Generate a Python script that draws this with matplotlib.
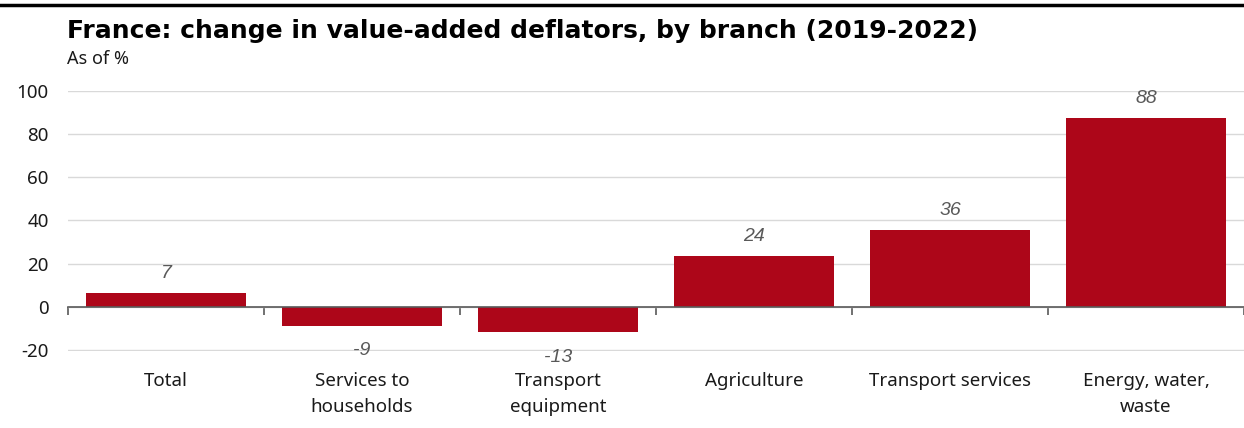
import matplotlib
matplotlib.use("Agg")
import matplotlib.pyplot as plt
from matplotlib.lines import Line2D

categories = ["Total", "Services to\nhouseholds", "Transport\nequipment",
              "Agriculture", "Transport services", "Energy, water,\nwaste"]
values = [6.5, -8.8, -11.7, 23.3, 35.7, 87.6]
labels = ["7", "-9", "-13", "24", "36", "88"]
yticks = [-20, 0, 20, 40, 60, 80, 100]

BAR = "#ad0619"
plt.rcParams['font.family'] = ['Noto Sans', 'DejaVu Sans']

fig = plt.figure(figsize=(12.44, 4.28), dpi=100)
W, H = 1244, 428
ax = fig.add_axes([68 / W, 1 - 351 / H, (1244 - 68) / W, (351 - 91) / H])

x = list(range(len(categories)))
ax.bar(x, values, width=0.82, color=BAR, zorder=3)
ax.set_xlim(-0.5, len(categories) - 0.5)
ax.set_ylim(-20.5, 100)
ax.set_yticks(yticks)
ax.set_yticklabels([str(v) for v in yticks], fontsize=13.5, color="#1a1a1a")
ax.tick_params(axis='y', length=0, pad=14)
ax.grid(axis='y', color="#d9d9d9", linewidth=1, zorder=0)
for s in ['top', 'right', 'left']:
    ax.spines[s].set_visible(False)
ax.spines['bottom'].set_position(('data', 0))
ax.spines['bottom'].set_color("#595959")
ax.spines['bottom'].set_linewidth(1.2)
ax.spines['bottom'].set_zorder(4)
ax.set_xticks(x)
ax.set_xticklabels([])
ax.tick_params(axis='x', which='major', length=0)
ax.set_xticks([i - 0.5 for i in range(len(categories) + 1)], minor=True)
ax.tick_params(axis='x', which='minor', length=6, width=1.2, color="#595959", direction='out')

for i, (v, lab, cat) in enumerate(zip(values, labels, categories)):
    off = 8 if v >= 0 else -12
    ax.annotate(lab, xy=(i, v), xytext=(0, off), textcoords='offset points',
                ha='center', va='bottom' if v >= 0 else 'top',
                fontsize=14, style='italic', color="#595959", zorder=5,
                family=['Liberation Sans'])
    ax.annotate(cat, xy=(i, 0), xycoords=('data', 'axes fraction'),
                xytext=(0, -15), textcoords='offset points',
                ha='center', va='top', fontsize=13.5, color="#1a1a1a",
                linespacing=1.6)

fig.add_artist(Line2D([0, 1], [1 - 5 / H, 1 - 5 / H], color='black', linewidth=2.5,
                      transform=fig.transFigure))
fig.text(67 / W, 1 - 38 / H, "France: change in value-added deflators, by branch (2019-2022)",
         fontsize=18, fontweight='heavy', family=['DejaVu Sans'], color='black',
         ha='left', va='baseline')
fig.text(67 / W, 1 - 64 / H, "As of %", fontsize=13, color="#1a1a1a",
         ha='left', va='baseline')

fig.savefig("out.png", dpi=100)
